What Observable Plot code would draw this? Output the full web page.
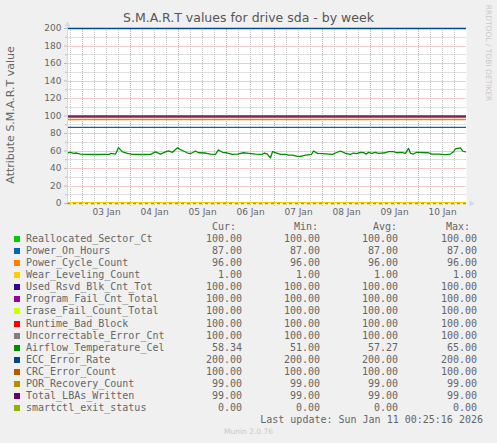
<!DOCTYPE html>
<html><head><meta charset="utf-8">
<script src="https://cdn.jsdelivr.net/npm/d3@7"></script>
<script src="https://cdn.jsdelivr.net/npm/@observablehq/plot@0.6"></script>
<style>
body{margin:0;background:#F0F0F0;}
#wrap{position:relative;width:497px;height:443px;overflow:hidden;font-family:"DejaVu Sans",sans-serif;color:#666;}
.abs{position:absolute;white-space:pre;}
.mono{font-family:"DejaVu Sans Mono",monospace;font-size:10px;line-height:12px;color:#666;}
#chart{position:absolute;left:0;top:0;}
</style></head><body><div id="wrap"><div id="chart"></div></div>
<script>
const titleText = "S.M.A.R.T values for drive sda - by week";
const yLabel = "Attribute S.M.A.R.T value";
const sideText = "RRDTOOL / TOBI OETIKER";
const footerText = "Munin 2.0.76";
const lastUpdate = "Last update: Sun Jan 11 00:25:16 2026";
const colHeaders = ["Cur:", "Min:", "Avg:", "Max:"];

const seriesNames = ["Reallocated_Sector_Ct","Power_On_Hours","Power_Cycle_Count","Wear_Leveling_Count",
  "Used_Rsvd_Blk_Cnt_Tot","Program_Fail_Cnt_Total","Erase_Fail_Count_Total","Runtime_Bad_Block",
  "Uncorrectable_Error_Cnt","Airflow_Temperature_Cel","ECC_Error_Rate","CRC_Error_Count",
  "POR_Recovery_Count","Total_LBAs_Written","smartctl_exit_status"];
const seriesColors = ["#00CC00","#0066B3","#FF8000","#FFCC00","#330099","#990099","#CCFF00","#FF0000",
  "#808080","#008F00","#00487D","#B35A00","#B38F00","#6B006B","#8FB300"];
const curValues = [100,87,96,1,100,100,100,100,100,58.34,200,100,99,99,0];
const minValues = [100,87,96,1,100,100,100,100,100,51,200,100,99,99,0];
const avgValues = [100,87,96,1,100,100,100,100,100,57.27,200,100,99,99,0];
const maxValues = [100,87,96,1,100,100,100,100,100,65,200,100,99,99,0];
const tempIndex = 9;

const tempTimes = [
 "2026-01-02T16:30Z","2026-01-02T18:00Z","2026-01-02T19:30Z","2026-01-02T21:00Z","2026-01-02T23:00Z",
 "2026-01-03T01:30Z","2026-01-03T06:00Z","2026-01-03T13:30Z","2026-01-03T14:00Z","2026-01-03T16:30Z",
 "2026-01-03T18:00Z","2026-01-03T20:00Z","2026-01-03T22:30Z","2026-01-04T01:00Z","2026-01-04T06:00Z",
 "2026-01-04T10:00Z","2026-01-04T12:30Z","2026-01-04T15:00Z","2026-01-04T17:30Z","2026-01-04T19:00Z",
 "2026-01-04T21:00Z","2026-01-04T23:30Z","2026-01-05T01:00Z","2026-01-05T02:30Z","2026-01-05T04:30Z",
 "2026-01-05T06:00Z","2026-01-05T08:30Z","2026-01-05T10:00Z","2026-01-05T13:30Z","2026-01-05T16:00Z",
 "2026-01-05T18:30Z","2026-01-05T20:00Z","2026-01-05T22:00Z","2026-01-06T00:30Z","2026-01-06T03:00Z",
 "2026-01-06T05:30Z","2026-01-06T08:30Z","2026-01-06T11:00Z","2026-01-06T14:30Z","2026-01-06T18:00Z",
 "2026-01-06T19:00Z","2026-01-06T20:30Z","2026-01-06T21:00Z","2026-01-06T22:00Z","2026-01-06T23:00Z",
 "2026-01-07T01:30Z","2026-01-07T03:00Z","2026-01-07T05:30Z","2026-01-07T07:00Z","2026-01-07T09:00Z",
 "2026-01-07T11:30Z","2026-01-07T13:00Z","2026-01-07T15:30Z","2026-01-07T18:30Z","2026-01-07T19:30Z",
 "2026-01-07T21:30Z","2026-01-08T00:00Z","2026-01-08T05:00Z","2026-01-08T06:30Z","2026-01-08T09:00Z",
 "2026-01-08T11:30Z","2026-01-08T14:00Z","2026-01-08T15:30Z","2026-01-08T17:00Z","2026-01-08T19:00Z",
 "2026-01-08T20:30Z","2026-01-08T22:00Z","2026-01-08T23:00Z","2026-01-09T00:30Z","2026-01-09T02:30Z",
 "2026-01-09T04:00Z","2026-01-09T07:30Z","2026-01-09T09:00Z","2026-01-09T11:30Z","2026-01-09T13:00Z",
 "2026-01-09T15:30Z","2026-01-09T17:30Z","2026-01-09T19:00Z","2026-01-09T20:00Z","2026-01-09T21:30Z",
 "2026-01-09T23:00Z","2026-01-10T05:00Z","2026-01-10T06:30Z","2026-01-10T10:00Z","2026-01-10T13:30Z",
 "2026-01-10T16:00Z","2026-01-10T17:30Z","2026-01-10T18:30Z","2026-01-10T21:00Z","2026-01-10T22:00Z",
 "2026-01-10T23:30Z"];
const tempValues = [
 58.0,58.5,57.3,57.7,56.5,
 56.2,56.0,56.2,57.3,56.5,
 63.8,59.0,57.3,56.2,56.0,
 56.2,59.0,56.5,59.0,60.2,
 58.5,63.8,61.5,60.0,57.7,
 56.9,60.0,58.0,57.7,56.5,
 56.2,61.2,58.5,57.7,56.2,
 56.5,58.0,57.3,56.5,56.2,
 57.7,56.5,54.6,52.3,59.2,
 57.3,56.2,56.2,55.4,55.4,
 53.8,53.8,55.4,56.2,60.0,
 57.3,56.9,56.2,57.7,60.0,
 57.3,56.2,57.7,56.9,58.5,
 58.2,56.5,58.5,57.3,58.5,
 57.3,58.0,59.2,59.2,58.0,
 58.5,57.3,63.0,57.3,56.5,
 58.5,58.0,56.5,56.5,55.8,
 56.5,59.2,62.3,63.5,60.0,
 59.0];

const timeDomain = ["2026-01-02T16:30Z", "2026-01-11T00:00Z"];
const xTickDates = ["2026-01-03T12:00Z","2026-01-04T12:00Z","2026-01-05T12:00Z","2026-01-06T12:00Z",
  "2026-01-07T12:00Z","2026-01-08T12:00Z","2026-01-09T12:00Z","2026-01-10T12:00Z"];
const yTicks = [0,20,40,60,80,100,120,140,160,180,200];
const yMinorTicks = [10,30,50,70,90,110,130,150,170,190];

// ---- derived ----
const t0 = new Date(timeDomain[0]), t1 = new Date(timeDomain[1]);
const temp = tempTimes.map((t, i) => ({t: new Date(t), v: tempValues[i]}));
const series = seriesNames.map((name, i) => ({name, color: seriesColors[i], value: curValues[i], i}));
const midnights = d3.utcDay.range(d3.utcDay.ceil(t0), t1);
const sixHours = d3.utcHour.every(6).range(t0, t1).filter(d => d.getUTCHours() !== 0);
const AXIS = "#CFD6F8";
const MINOR = "#C4C4C4";
const MAJOR = "#E6A0A0";
const MINOR_H = "#E0E0E0";
const MAJOR_H = "#F2CACA";
const dotted = {strokeDasharray: "1,1", className: "gridrule"};

const arrowUp = {draw(ctx){ ctx.moveTo(0,-4); ctx.lineTo(3,1); ctx.lineTo(-3,1); ctx.closePath(); }};
const arrowRight = {draw(ctx){ ctx.moveTo(4,0); ctx.lineTo(-1,3); ctx.lineTo(-1,-3); ctx.closePath(); }};

const marks = [
  Plot.frame({fill: "white", stroke: null}),
  Plot.ruleY(yMinorTicks, {y: d => d, stroke: MINOR_H, className: "gridrule"}),
  Plot.ruleX(sixHours, {y1: -2, y2: 200, stroke: MINOR, ...dotted}),
  Plot.ruleY(yTicks.filter(d => d > 0), {y: d => d, stroke: MAJOR_H, className: "gridrule"}),
  Plot.ruleX(midnights, {y1: -3, y2: 200, stroke: MAJOR, ...dotted}),
];
series.forEach(s => {
  if (s.i === tempIndex) {
    marks.push(Plot.line(temp, {x: "t", y: "v", stroke: s.color, strokeWidth: 1.3, curve: "linear"}));
  } else if (s.value === 0) {
    marks.push(Plot.ruleY([s], {y: "value", stroke: s.color, strokeWidth: 1.3, strokeDasharray: "3,3"}));
  } else {
    marks.push(Plot.ruleY([s], {y: "value", stroke: s.color, strokeWidth: 1.3}));
  }
});
marks.push(
  Plot.ruleX([t0], {y1: 0, y2: 200, stroke: AXIS}),
  Plot.dot([{t: t0, v: 200}], {x: "t", y: "v", symbol: arrowUp, fill: AXIS, stroke: null, dy: -3}),
  Plot.dot([{t: t1, v: 0}], {x: "t", y: "v", symbol: arrowRight, fill: AXIS, stroke: null, dx: 4}),
  Plot.axisY(yMinorTicks, {tickSize: 2, stroke: "#bbb", text: null, label: null}),
  Plot.axisY(yTicks, {tickSize: 3, tickPadding: 3, stroke: "#bbb", fill: "#666", label: null}),
  Plot.axisX(xTickDates.map(d => new Date(d)), {tickSize: 0, tickPadding: 5, fill: "#666", label: null,
    tickFormat: d3.utcFormat("%d %b")})
);

const chart = Plot.plot({
  width: 497, height: 220,
  marginLeft: 67, marginRight: 31, marginTop: 28, marginBottom: 17,
  x: {type: "utc", domain: [t0, t1], label: null},
  y: {domain: [0, 200], label: null},
  style: {fontFamily: "DejaVu Sans, sans-serif", fontSize: "9px", color: "#666", background: "transparent", overflow: "visible"},
  marks
});

// snap grid rules to whole pixels so the 1px lines render crisply (as rrdtool does)
function parseTranslate(el) {
  let tx = 0, ty = 0;
  for (let n = el; n && n !== chart; n = n.parentNode) {
    const m = /translate\(\s*([-\d.e]+)[,\s]*([-\d.e]*)\s*\)/.exec(n.getAttribute && n.getAttribute("transform") || "");
    if (m) { tx += +m[1]; ty += m[2] ? +m[2] : 0; }
  }
  return [tx, ty];
}
let gridGroups = Array.from(chart.querySelectorAll("g.gridrule"));
if (!gridGroups.length) {
  gridGroups = Array.from(chart.querySelectorAll('g[aria-label="rule"]'))
    .filter(g => [MINOR, MAJOR, MINOR_H, MAJOR_H].includes((g.getAttribute("stroke") || "").toUpperCase()));
}
gridGroups.forEach(g => {
  g.querySelectorAll("line").forEach(l => {
    const [tx, ty] = parseTranslate(l);
    const x1 = +l.getAttribute("x1"), x2 = +l.getAttribute("x2");
    const y1 = +l.getAttribute("y1"), y2 = +l.getAttribute("y2");
    if (!isFinite(x1) || !isFinite(y1) || !isFinite(x2) || !isFinite(y2)) return;
    if (Math.abs(y1 - y2) < 1e-6) {
      const y = Math.floor(y1 + ty) + 0.5 - ty;
      l.setAttribute("y1", y); l.setAttribute("y2", y);
      l.setAttribute("x1", Math.round(x1 + tx) - tx); l.setAttribute("x2", Math.round(x2 + tx) - tx);
    } else {
      const x = Math.floor(x1 + tx) + 0.5 - tx;
      l.setAttribute("x1", x); l.setAttribute("x2", x);
      l.setAttribute("y1", Math.round(y1 + ty) - ty); l.setAttribute("y2", Math.round(y2 + ty) - ty);
    }
  });
});
document.getElementById("chart").appendChild(chart);

const wrap = document.getElementById("wrap");
function addText(text, css, cls) {
  const d = document.createElement("div");
  d.className = "abs " + (cls || "");
  d.textContent = text;
  Object.assign(d.style, css);
  wrap.appendChild(d);
  return d;
}
// title
addText(titleText, {left: "0", width: "497px", textAlign: "center", top: "10px", fontSize: "12.5px", lineHeight: "16px", color: "#555"});
// y label (rotated)
addText(yLabel, {left: "11px", top: "115px", fontSize: "11px", lineHeight: "12px", color: "#666",
  transform: "translate(-50%,-50%) rotate(-90deg)"});
// side text
addText(sideText, {left: "488px", top: "53px", fontSize: "7.5px", lineHeight: "9px", color: "#CACACA",
  transform: "translate(-50%,-50%) rotate(90deg)"});

// legend
const colRight = [242, 320, 398, 477];
const headRight = [236, 318, 397, 470];
colHeaders.forEach((h, j) => addText(h, {right: (497 - headRight[j]) + "px", top: "221px"}, "mono"));
const fmt = d3.format(".2f");
const cols = [curValues, minValues, avgValues, maxValues];
seriesNames.forEach((name, i) => {
  const cy = 239.3 + i * 12.03;
  const sw = document.createElement("div");
  Object.assign(sw.style, {position: "absolute", left: "14px", top: (cy - 3) + "px", width: "6px", height: "6px", background: seriesColors[i]});
  wrap.appendChild(sw);
  addText(name, {left: "26px", top: (cy - 6) + "px"}, "mono");
  cols.forEach((arr, j) => addText(fmt(arr[i]), {right: (497 - colRight[j]) + "px", top: (cy - 6) + "px"}, "mono"));
});
addText(lastUpdate, {right: (497 - 483) + "px", top: "414px"}, "mono");
addText(footerText, {left: "0", width: "497px", textAlign: "center", top: "427px", fontSize: "7.5px", lineHeight: "9px", color: "#C8C8C8"});
</script></body></html>
